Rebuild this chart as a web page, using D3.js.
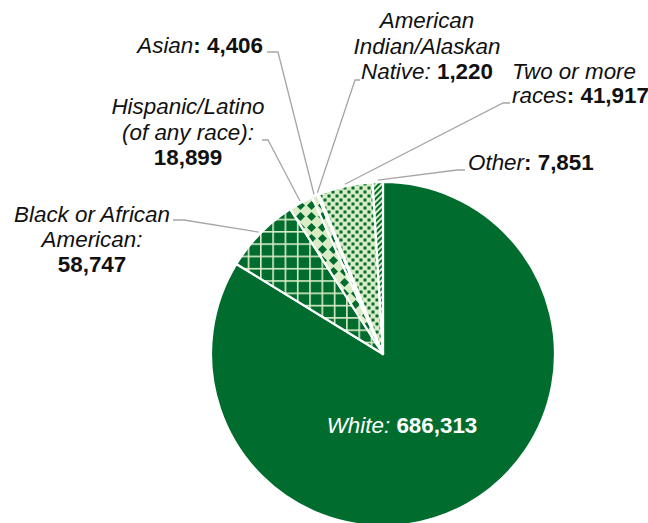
<!DOCTYPE html>
<html>
<head>
<meta charset="utf-8">
<script src="https://cdn.jsdelivr.net/npm/d3@7"></script>
<style>
  html, body { margin: 0; padding: 0; background: #fff; }
  svg { display: block; font-family: "Liberation Sans", Arial, sans-serif; }
</style>
</head>
<body>
<div id="chart"></div>
<script>
// data, clockwise from 12 o'clock
const categories = ['White', 'Black or African American', 'Hispanic/Latino (of any race)',
  'Asian', 'American Indian/Alaskan Native', 'Two or more races', 'Other'];
const values = [686313, 58747, 18899, 4406, 1220, 41917, 7851];

// label text: lines of [style, text] segments, {v} = formatted value
const labelText = [
  [[['i', 'White: '], ['b', '{v}']]],
  [[['i', 'Black or African']], [['i', 'American:']], [['b', '{v}']]],
  [[['i', 'Hispanic/Latino']], [['i', '(of any race):']], [['b', '{v}']]],
  [[['i', 'Asian'], ['b', ': {v}']]],
  [[['i', 'American']], [['i', 'Indian/Alaskan']], [['i', 'Native: '], ['b', '{v}']]],
  [[['i', 'Two or more']], [['i', 'races'], ['b', ': {v}']]],
  [[['i', 'Other'], ['b', ': {v}']]]
];

const patternIds = ['solid', 'grid', 'diamond', 'diamond', 'fine', 'dots', 'stripes'];

// label layout (text anchor point, line height, leader elbow)
const labelLayout = [
  { x: 402, y: 433, anchor: 'middle', lh: 25, fill: '#fff' },
  { x: 92, y: 222, anchor: 'middle', lh: 25, lead: [[173, 220], [184, 220]] },
  { x: 188, y: 114, anchor: 'middle', lh: 25.5, lead: [[262, 140], [268, 140]] },
  { x: 263, y: 53, anchor: 'end', lh: 25, lead: [[267, 52], [278, 52]] },
  { x: 427, y: 28, anchor: 'middle', lh: 25.5, lead: [[360, 80], [355, 80]] },
  { x: 512, y: 78.5, anchor: 'start', lh: 24, lead: [[510, 103], [503, 103]] },
  { x: 468, y: 170, anchor: 'start', lh: 25, lead: [[465, 170], [457, 170]] }
];

const width = 648, height = 523;
const cx = 383, cy = 354, radius = 172;
const dark = '#006d2f', pale = '#d9ecc5', leaderColor = '#a6a6a6';
const fmt = d3.format(',');

const svg = d3.select('#chart').append('svg')
  .attr('width', width)
  .attr('height', height);

// fill patterns
const defs = svg.append('defs');

const grid = defs.append('pattern').attr('id', 'grid')
  .attr('patternUnits', 'userSpaceOnUse').attr('width', 12.3).attr('height', 12.3);
grid.append('rect').attr('width', 12.3).attr('height', 12.3).attr('fill', dark);
grid.append('rect').attr('width', 1.6).attr('height', 12.3).attr('fill', pale);
grid.append('rect').attr('width', 12.3).attr('height', 1.6).attr('fill', pale);

const diamond = defs.append('pattern').attr('id', 'diamond')
  .attr('patternUnits', 'userSpaceOnUse').attr('width', 11).attr('height', 11);
diamond.append('rect').attr('width', 11).attr('height', 11).attr('fill', pale);
diamond.append('path').attr('d', 'M5.5,1L10,5.5L5.5,10L1,5.5Z').attr('fill', dark);

const dots = defs.append('pattern').attr('id', 'dots')
  .attr('patternUnits', 'userSpaceOnUse').attr('width', 8).attr('height', 8);
dots.append('rect').attr('width', 8).attr('height', 8).attr('fill', pale);
dots.append('rect').attr('x', 0.5).attr('y', 0.5).attr('width', 3).attr('height', 3).attr('fill', dark);
dots.append('rect').attr('x', 4.5).attr('y', 4.5).attr('width', 3).attr('height', 3).attr('fill', dark);

const fine = defs.append('pattern').attr('id', 'fine')
  .attr('patternUnits', 'userSpaceOnUse').attr('width', 3).attr('height', 3);
fine.append('rect').attr('width', 3).attr('height', 3).attr('fill', pale);
fine.append('rect').attr('width', 1.5).attr('height', 1.5).attr('fill', dark);

const stripes = defs.append('pattern').attr('id', 'stripes')
  .attr('patternUnits', 'userSpaceOnUse').attr('width', 4).attr('height', 4)
  .attr('patternTransform', 'rotate(45)');
stripes.append('rect').attr('width', 4).attr('height', 4).attr('fill', pale);
stripes.append('rect').attr('width', 2).attr('height', 4).attr('fill', dark);

const fillFor = i => patternIds[i] === 'solid' ? dark : `url(#${patternIds[i]})`;

// pie
const pie = d3.pie().sort(null).value(d => d)(values);
const arc = d3.arc().innerRadius(0).outerRadius(radius);

const g = svg.append('g').attr('transform', `translate(${cx},${cy})`);
g.selectAll('path.slice')
  .data(pie)
  .join('path')
  .attr('class', 'slice')
  .attr('d', arc)
  .attr('fill', (d, i) => fillFor(i))
  .attr('stroke', '#fff')
  .attr('stroke-width', 2.2)
  .attr('stroke-linejoin', 'round');

// leader lines
const line = d3.line();
pie.forEach((d, i) => {
  const lay = labelLayout[i];
  if (!lay.lead) return;
  const a = (d.startAngle + d.endAngle) / 2;
  const p = [cx + Math.sin(a) * (radius + 2), cy - Math.cos(a) * (radius + 2)];
  svg.append('path')
    .attr('d', line([lay.lead[0], lay.lead[1], p]))
    .attr('fill', 'none')
    .attr('stroke', leaderColor)
    .attr('stroke-width', 1.3);
});

// labels
labelText.forEach((lines, i) => {
  const lay = labelLayout[i];
  const t = svg.append('text')
    .attr('x', lay.x)
    .attr('y', lay.y)
    .attr('text-anchor', lay.anchor)
    .attr('font-size', 22.4)
    .attr('fill', lay.fill || '#111');
  lines.forEach((segs, li) => {
    segs.forEach((s, si) => {
      const ts = t.append('tspan')
        .text(s[1].replace('{v}', fmt(values[i])))
        .attr('font-style', s[0] === 'i' ? 'italic' : 'normal')
        .attr('font-weight', s[0] === 'b' ? 'bold' : 'normal');
      if (si === 0) ts.attr('x', lay.x).attr('y', lay.y + li * lay.lh);
    });
  });
});
</script>
</body>
</html>
